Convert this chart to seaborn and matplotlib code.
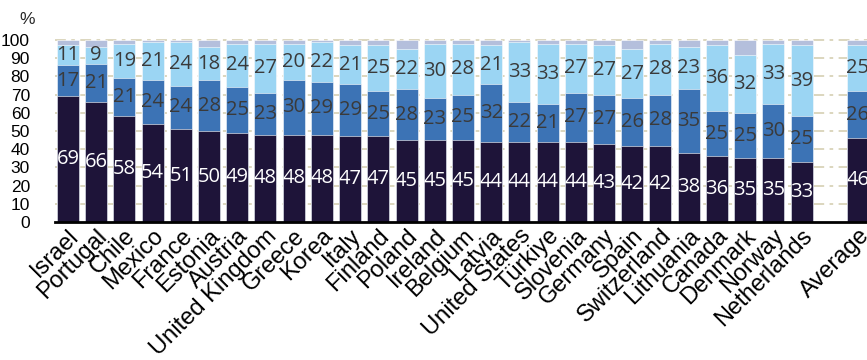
import matplotlib
matplotlib.use("Agg")
import matplotlib.pyplot as plt
import seaborn as sns
import pandas as pd
import numpy as np

countries = ["Israel", "Portugal", "Chile", "Mexico", "France", "Estonia", "Austria",
             "United Kingdom", "Greece", "Korea", "Italy", "Finland", "Poland", "Ireland",
             "Belgium", "Latvia", "United States", "Türkiye", "Slovenia", "Germany", "Spain",
             "Switzerland", "Lithuania", "Canada", "Denmark", "Norway", "Netherlands", "Average"]
share_low = [69, 66, 58, 54, 51, 50, 49, 48, 48, 48, 47, 47, 45, 45, 45, 44, 44, 44, 44, 43,
             42, 42, 38, 36, 35, 35, 33, 46]
share_mid = [17, 21, 21, 24, 24, 28, 25, 23, 30, 29, 29, 25, 28, 23, 25, 32, 22, 21, 27, 27,
             26, 28, 35, 25, 25, 30, 25, 26]
share_high = [11, 9, 19, 21, 24, 18, 24, 27, 20, 22, 21, 25, 22, 30, 28, 21, 33, 33, 27, 27,
              27, 28, 23, 36, 32, 33, 39, 25]
share_other = [100 - a - b - c for a, b, c in zip(share_low, share_mid, share_high)]

yticks = list(range(0, 101, 10))

sns.set_theme(style="white")
plt.rcParams["font.family"] = ["Liberation Sans", "DejaVu Sans"]

df = pd.DataFrame({"country": countries, "low": share_low, "mid": share_mid,
                   "high": share_high, "other": share_other})
df["c1"] = df["low"]
df["c2"] = df["c1"] + df["mid"]
df["c3"] = df["c2"] + df["high"]
df["c4"] = df["c3"] + df["other"]

gap = " "
order = countries[:-1] + [gap] + countries[-1:]

fig = plt.figure(figsize=(8.67, 3.6), dpi=100)
ax = fig.add_axes([55 / 867, 138 / 360, 1 - 55 / 867, 182 / 360])

colors = {"c4": "#b4bfdc", "c3": "#9bd5f3", "c2": "#3c73b5", "c1": "#1e1439"}
for col in ["c4", "c3", "c2", "c1"]:
    sns.barplot(data=df, x="country", y=col, order=order, color=colors[col],
                width=0.78, saturation=1, ax=ax, edgecolor="white", linewidth=0.4,
                zorder=2)

# Segment value labels
pos = {c: i for i, c in enumerate(order)}
lab_kw = dict(ha="center", va="center", fontsize=14.5, family="Open Sans", zorder=3)
for _, r in df.iterrows():
    x = pos[r["country"]]
    ax.text(x, r["low"] / 2, f"{r['low']}", color="white", **lab_kw)
    ax.text(x, r["c1"] + r["mid"] / 2, f"{r['mid']}", color="#3a3a3a", **lab_kw)
    ax.text(x, r["c2"] + r["high"] / 2, f"{r['high']}", color="#3a3a3a", **lab_kw)

ax.set_ylim(0, 100)
ax.set_xlim(-0.46, 28.32)
ax.set_yticks(yticks)
ax.set_yticklabels([str(t) for t in yticks], fontsize=12.5, color="black")
ax.tick_params(axis="y", length=0, pad=18)
ax.tick_params(axis="x", length=0, pad=2)
ax.set_xticks(range(len(order)))
ax.set_xticklabels(order, rotation=45, ha="right", rotation_mode="anchor",
                   fontsize=17, color="black")
ax.set_xlabel("")
ax.set_ylabel("")

for t in yticks[1:]:
    ax.axhline(t, color="#d9d3b9", lw=1.3, ls=(0, (6, 3, 2, 3)), zorder=1, clip_on=False)

for s in ["top", "right", "left"]:
    ax.spines[s].set_visible(False)
ax.spines["bottom"].set_color("black")
ax.spines["bottom"].set_linewidth(2)
ax.spines["bottom"].set_zorder(4)
ax.grid(False)

fig.text(27 / 867, 1 - 20 / 360, "%", ha="center", va="center", fontsize=12.5)

fig.savefig("out.png", dpi=100)
